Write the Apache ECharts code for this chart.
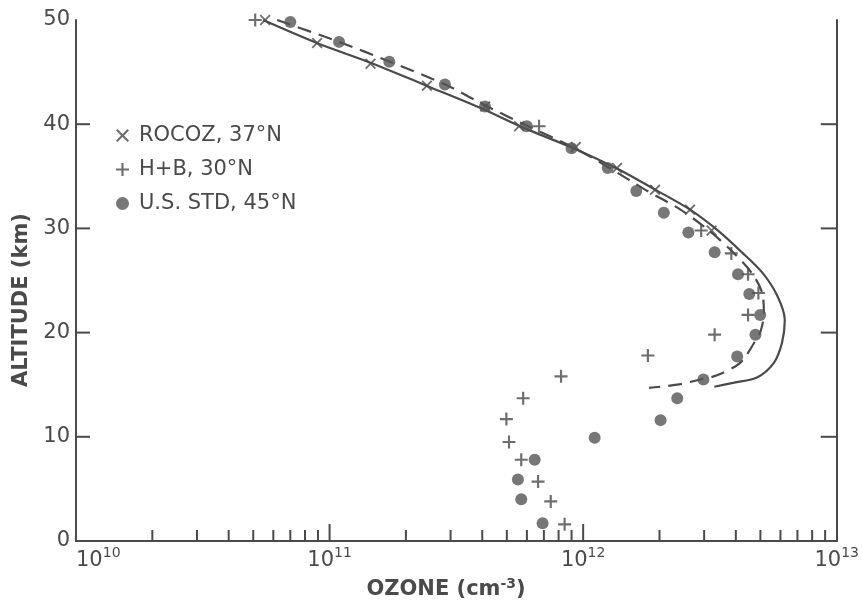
<!DOCTYPE html>
<html>
<head>
<meta charset="utf-8">
<script src="https://cdn.jsdelivr.net/npm/echarts@6/dist/echarts.min.js"></script>
<style>
html,body{margin:0;padding:0;background:#fff;}
#chart{width:862px;height:608px;}
</style>
</head>
<body>
<div id="chart"></div>
<script>
// ---- data (ozone number density cm^-3, altitude km) ----
const rocozName = 'ROCOZ, 37°N';
const hbName = 'H+B, 30°N';
const usStdName = 'U.S. STD, 45°N';

const rocoz = [
  [5.57e10, 50.0], [8.93e10, 47.8], [1.45e11, 45.8], [2.42e11, 43.7], [4.11e11, 41.7],
  [5.59e11, 39.8], [9.35e11, 37.8], [1.36e12, 35.8], [1.92e12, 33.7], [2.64e12, 31.8],
  [3.21e12, 29.8]
];
const hb = [
  [5.09e10, 50.0], [6.70e11, 39.8], [2.92e12, 29.8], [3.84e12, 27.6], [4.47e12, 25.6],
  [4.91e12, 23.8], [4.47e12, 21.7], [3.30e12, 19.8], [1.80e12, 17.8], [8.18e11, 15.8],
  [5.80e11, 13.7], [4.98e11, 11.7], [5.10e11, 9.5], [5.70e11, 7.8], [6.64e11, 5.7],
  [7.45e11, 3.8], [8.45e11, 1.6]
];
const usStd = [
  [7.0e10, 49.8], [1.09e11, 47.9], [1.72e11, 46.0], [2.85e11, 43.8], [4.1e11, 41.7],
  [6.0e11, 39.8], [9.0e11, 37.7], [1.25e12, 35.8], [1.62e12, 33.6], [2.08e12, 31.5],
  [2.6e12, 29.6], [3.3e12, 27.7], [4.08e12, 25.6], [4.52e12, 23.7], [4.99e12, 21.7],
  [4.78e12, 19.8], [4.05e12, 17.7], [2.98e12, 15.5], [2.35e12, 13.7], [2.02e12, 11.6],
  [1.11e12, 9.9], [6.44e11, 7.8], [5.53e11, 5.9], [5.7e11, 4.0], [6.92e11, 1.7]
];
// model curves
const solidCurve = [
  [5.47e10, 50.0], [8.91e10, 47.8], [1.45e11, 45.9], [2.41e11, 43.7], [3.9e11, 41.6],
  [5.9e11, 39.6], [9.35e11, 37.6], [1.37e12, 35.7], [1.93e12, 33.7], [2.64e12, 31.8],
  [3.44e12, 29.7], [4.23e12, 27.7], [5.07e12, 25.8], [5.81e12, 23.6], [6.24e12, 21.2],
  [6.08e12, 19.0], [5.65e12, 17.1], [4.85e12, 15.7], [3.94e12, 15.2], [3.29e12, 14.8]
];
const dashedCurve = [
  [6.21e10, 50.0], [1.09e11, 47.9], [1.73e11, 46.0], [2.86e11, 43.8], [4.19e11, 41.7],
  [6.07e11, 39.8], [9.10e11, 37.8], [1.27e12, 35.8], [1.76e12, 33.7], [2.42e12, 31.8],
  [3.17e12, 29.7], [3.94e12, 27.6], [4.63e12, 25.7], [5.07e12, 23.9], [5.16e12, 21.9],
  [5.02e12, 20.2], [4.72e12, 19.0], [4.16e12, 17.1], [3.37e12, 15.9], [2.90e12, 15.5],
  [2.35e12, 15.0], [1.82e12, 14.7]
];
// axis ticks
const xMin = 1e10, xMax = 1e13;
const yMin = 0, yMax = 50;
const yTickMarks = [10, 20, 30, 40];
const xMajorTicks = [1e11, 1e12];
const minorTickValues = [
  2e10, 3e10, 4e10, 5e10, 6e10, 7e10, 8e10, 9e10,
  2e11, 3e11, 4e11, 5e11, 6e11, 7e11, 8e11, 9e11,
  2e12, 3e12, 4e12, 5e12, 6e12, 7e12, 8e12, 9e12
];

// ---- styles ----
const ink = '#4a4a4a';
const font = 'DejaVu Sans';
const plusPath = 'path://M5,0h2v5h5v2h-5v5h-2v-5h-5v-2h5z';
const crossPath = 'path://M1.4,0L6,4.6L10.6,0L12,1.4L7.4,6L12,10.6L10.6,12L6,7.4L1.4,12L0,10.6L4.6,6L0,1.4Z';

// tick-drawing custom series (positions come from the axes' own scales)
function tickSeries(data, dx, dy) {
  return {
    type: 'custom', silent: true, clip: false, z: 5,
    data: data,
    renderItem: (params, api) => {
      const p = api.coord([api.value(0), api.value(1)]);
      return {type: 'line', shape: {x1: p[0], y1: p[1], x2: p[0] + dx, y2: p[1] + dy},
              style: {stroke: ink, lineWidth: 2}};
    }
  };
}

const chart = echarts.init(document.getElementById('chart'), null, {renderer: 'canvas'});
chart.setOption({
  backgroundColor: '#fff',
  animation: false,
  textStyle: {fontFamily: font},
  grid: {left: 76, right: 22, top: 20, bottom: 67},
  legend: {
    orient: 'vertical',
    left: 111, top: 120,
    itemWidth: 13, itemHeight: 13,
    itemGap: 13,
    textStyle: {fontSize: 21, color: ink, fontFamily: font, padding: [0, 0, 0, 5]},
    data: [
      {name: rocozName, icon: crossPath},
      {name: hbName, icon: plusPath},
      {name: usStdName, icon: 'circle'}
    ]
  },
  xAxis: [{
    type: 'log', logBase: 10, min: xMin, max: xMax,
    axisLine: {show: true, lineStyle: {color: ink, width: 2}},
    axisTick: {show: false},
    splitLine: {show: false},
    minorTick: {show: false},
    axisLabel: {
      margin: 5,
      alignMinLabel: 'left',
      color: ink,
      formatter: v => '{b|10}{s|' + Math.round(Math.log10(v)) + '}',
      rich: {
        b: {fontSize: 21, color: ink, fontFamily: font, verticalAlign: 'bottom'},
        s: {fontSize: 14, color: ink, fontFamily: font, verticalAlign: 'bottom', padding: [0, 0, 11, 0]}
      }
    }
  }, {
    type: 'log', logBase: 10, min: xMin, max: xMax, position: 'top',
    axisLine: {show: true, lineStyle: {color: ink, width: 2}},
    axisTick: {show: false}, axisLabel: {show: false}, splitLine: {show: false}
  }],
  yAxis: [{
    type: 'value', min: yMin, max: yMax, interval: 10,
    axisLine: {show: true, lineStyle: {color: ink, width: 2}},
    axisTick: {show: false},
    splitLine: {show: false},
    axisLabel: {margin: 6, fontSize: 21, color: ink, fontFamily: font}
  }, {
    type: 'value', min: yMin, max: yMax, interval: 10, position: 'right',
    axisLine: {show: true, lineStyle: {color: ink, width: 2}},
    axisTick: {show: false}, splitLine: {show: false}, axisLabel: {show: false}
  }],
  graphic: [
    {type: 'text', x: 22, y: 300, rotation: Math.PI / 2,
     style: {text: 'ALTITUDE (km)', font: 'bold 21px "DejaVu Sans"', fill: ink, align: 'center', verticalAlign: 'middle'}},
    {type: 'text', x: 446, y: 590,
     style: {text: 'OZONE (cm{s|-3})', font: 'bold 21px "DejaVu Sans"', fill: ink, align: 'center', verticalAlign: 'middle',
       rich: {s: {font: 'bold 14px "DejaVu Sans"', fill: ink, verticalAlign: 'bottom', padding: [0, 0, 12, 0]}}}}
  ],
  series: [
    tickSeries(minorTickValues.map(v => [v, yMin]), 0, -11),
    tickSeries(xMajorTicks.map(v => [v, yMin]), 0, -17),
    tickSeries(yTickMarks.map(v => [xMin, v]), 14, 0),
    tickSeries(yTickMarks.map(v => [xMax, v]), -16, 0),
    {
      type: 'line', name: 'model', data: solidCurve, showSymbol: false, smooth: 0.3, silent: true,
      lineStyle: {color: ink, width: 2.2, type: 'solid'}
    },
    {
      type: 'line', name: 'model2', data: dashedCurve, showSymbol: false, smooth: 0.3, silent: true,
      lineStyle: {color: ink, width: 2.2, type: [14, 8]}
    },
    {
      type: 'scatter', name: rocozName, data: rocoz, symbol: crossPath, symbolSize: 11,
      itemStyle: {color: ink}, z: 3
    },
    {
      type: 'scatter', name: hbName, data: hb, symbol: plusPath, symbolSize: 13,
      itemStyle: {color: ink}, z: 3
    },
    {
      type: 'scatter', name: usStdName, data: usStd, symbol: 'circle', symbolSize: 12,
      itemStyle: {color: '#555'}, z: 3
    }
  ]
});
</script>
</body>
</html>
